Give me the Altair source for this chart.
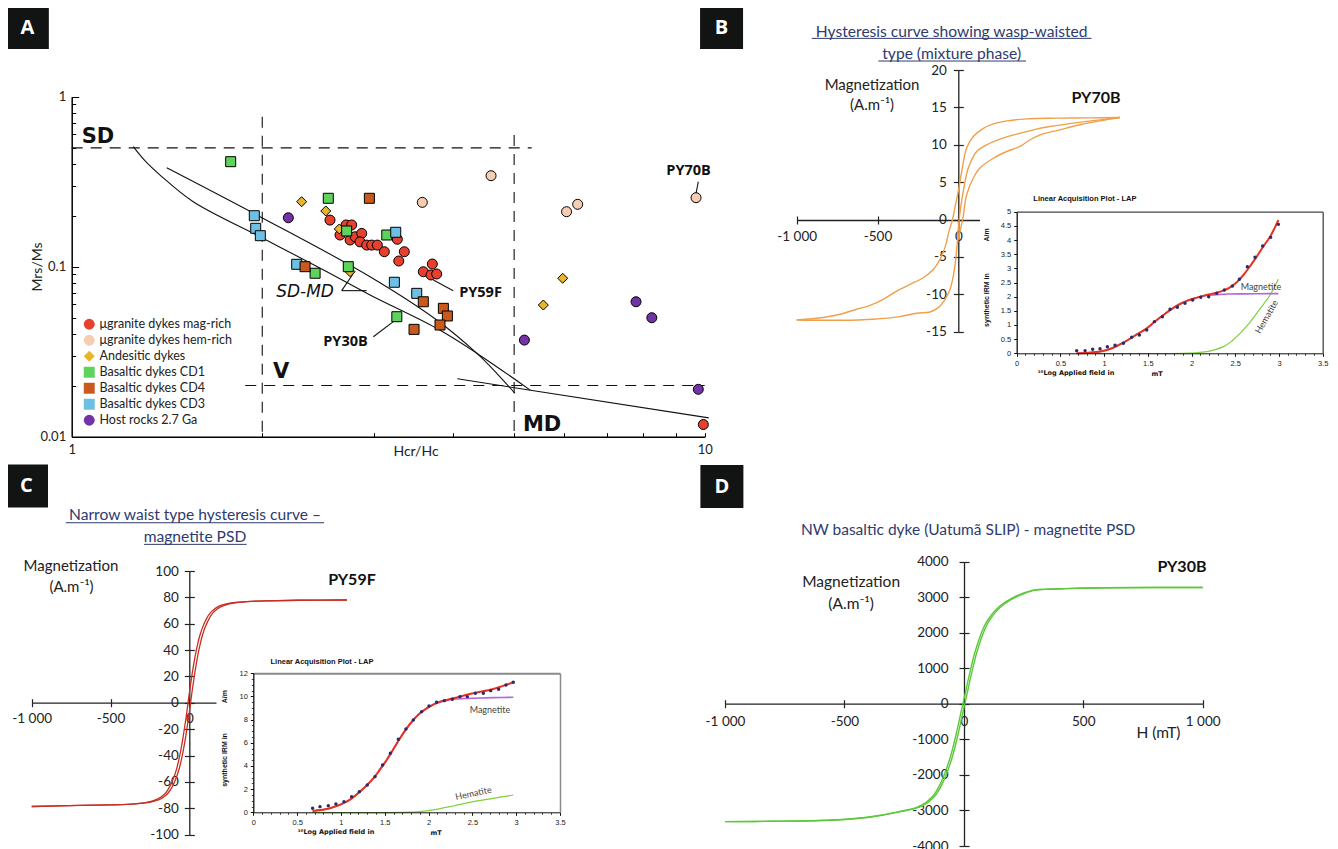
import altair as alt
import pandas as pd

W, H = 1322, 841

# ---------------- Panel A : Day plot data ----------------
A_groups = ["μgranite dykes mag-rich", "μgranite dykes hem-rich", "Andesitic dykes",
            "Basaltic dykes CD1", "Basaltic dykes CD4", "Basaltic dykes CD3", "Host rocks 2.7 Ga"]
A_colors = ["#e8402e", "#f6cdb2", "#e8b52f", "#5ed35b", "#c9591d", "#6dbfe4", "#7333a6"]
A_shapes = ["circle", "circle", "diamond", "square", "square", "square", "circle"]

mag_x = [2.559, 2.713, 2.769, 2.654, 2.753, 2.804, 2.872, 2.854, 2.924, 2.978, 3.04, 3.118,
         3.269, 3.353, 3.286, 3.593, 3.713, 3.695, 3.772, 9.95]
mag_y = [0.188, 0.176, 0.176, 0.1536, 0.1436, 0.150, 0.157, 0.140, 0.134, 0.134, 0.134, 0.1225,
         0.145, 0.1225, 0.108, 0.0934, 0.1037, 0.0894, 0.0906, 0.0118]
hem_x = [4.597, 3.58, 6.05, 6.30, 9.69]
hem_y = [0.343, 0.239, 0.2106, 0.2328, 0.2546]
and_x = [2.308, 2.52, 2.647, 2.753, 5.966, 5.56]
and_y = [0.2412, 0.2127, 0.1667, 0.0934, 0.0855, 0.0595]
cd1_x = [1.783, 2.543, 2.719, 3.146, 2.424, 2.735, 3.263]
cd1_y = [0.4147, 0.2526, 0.1622, 0.1536, 0.0915, 0.1, 0.0508]
cd4_x = [2.953, 2.337, 3.593, 3.865, 3.922, 3.818, 3.474]
cd4_y = [0.2526, 0.1, 0.0622, 0.0569, 0.0513, 0.0454, 0.0428]
cd3_x = [1.943, 1.953, 1.986, 2.267, 3.25, 3.234, 3.508]
cd3_y = [0.1995, 0.1682, 0.1522, 0.1033, 0.1594, 0.081, 0.0697]
host_x = [2.199, 5.19, 7.79, 8.25, 9.77]
host_y = [0.194, 0.037, 0.0622, 0.0501, 0.019]

# SD-MD mixing curves and MD line
curve1_x = [1.251, 1.306, 1.379, 1.556, 1.984, 2.53, 2.96, 3.772, 4.363, 5.30]
curve1_y = [0.508, 0.419, 0.346, 0.241, 0.150, 0.0935, 0.0682, 0.0434, 0.0310, 0.0188]
curve2_x = [1.413, 1.984, 2.96, 3.772, 4.363, 4.693, 5.015]
curve2_y = [0.382, 0.197, 0.0873, 0.0486, 0.0310, 0.0236, 0.0180]
mdline_x = [4.067, 10.15]
mdline_y = [0.0219, 0.0129]
# dashed domain boundaries
dash_seg = ["h1", "h1", "h2", "h2", "v1", "v1", "v2", "v2"]
dash_x = [1, 5.33, 1.88, 10, 2, 2, 5, 5]
dash_y = [0.5, 0.5, 0.02, 0.02, 0.763, 0.01, 0.595, 0.01]
# leader lines
lead_seg = ["a", "a", "b", "b", "c", "c", "d", "d", "e", "e"]
lead_x = [2.670, 2.782, 2.670, 2.924, 2.996, 3.222, 3.727, 4.006, 9.77, 9.69]
lead_y = [0.0723, 0.0906, 0.0723, 0.0723, 0.0387, 0.0475, 0.0835, 0.0723, 0.316, 0.270]

# ---------------- Panel B : PY70B hysteresis ----------------
B_desc_H = [1000, 815, 609, 423, 300, 217, 155, 93, 52, 21, 0, -18, -36, -60, -80, -113, -155,
            -217, -299, -381, -464, -546, -629, -732, -835, -1000]
B_desc_M = [13.64, 13.6, 13.56, 13.47, 13.2, 12.8, 12.2, 11.1, 9.6, 6.4, 3.8, 1.9, 0.0, -1.78,
            -3.56, -5.33, -6.67, -7.78, -8.67, -9.56, -10.67, -11.47, -12.0, -12.67, -13.1, -13.43]
B_asc_H = [-1000, -732, -526, -361, -257, -175, -124, -82, -51, -31, -16, -6, 5, 31, 62, 114,
           176, 258, 361, 464, 567, 712, 877, 1000]
B_asc_M = [-13.43, -13.47, -13.33, -12.98, -12.53, -12.36, -11.78, -10.67, -9.33, -7.56, -5.33,
           -3.1, 0.0, 3.8, 6.9, 9.1, 10.0, 10.76, 11.43, 12.0, 12.44, 12.9, 13.33, 13.64]
B_third_H = [-6, 10, 27, 52, 93, 134, 217, 300, 382, 444, 506, 629, 753, 877, 1000]
B_third_M = [-3.1, -1.6, 0.0, 3.33, 5.56, 6.9, 8.2, 9.1, 9.78, 10.67, 11.33, 12.0, 12.67, 13.2, 13.64]

# LAP inset B
Bi_dot_x = [0.686, 0.782, 0.869, 0.953, 1.037, 1.125, 1.22, 1.315, 1.403, 1.487, 1.575, 1.666,
            1.754, 1.838, 1.925, 2.013, 2.105, 2.196, 2.288, 2.375, 2.467, 2.547, 2.638, 2.726,
            2.814, 2.905, 2.993]
Bi_dot_y = [0.094, 0.094, 0.14, 0.165, 0.235, 0.282, 0.353, 0.565, 0.647, 0.824, 1.118, 1.294,
            1.553, 1.624, 1.765, 1.882, 1.976, 2.0, 2.118, 2.235, 2.376, 2.612, 3.059, 3.388,
            3.788, 4.094, 4.553]
Bi_fit_x = [0.686, 0.82, 0.953, 1.09, 1.22, 1.35, 1.487, 1.58, 1.678, 1.77, 1.868, 1.96, 2.059,
            2.17, 2.288, 2.37, 2.44, 2.52, 2.593, 2.67, 2.745, 2.82, 2.898, 2.95, 2.993]
Bi_fit_y = [0.0, 0.02, 0.06, 0.18, 0.376, 0.62, 0.88, 1.12, 1.353, 1.56, 1.741, 1.87, 1.965,
            2.06, 2.141, 2.22, 2.33, 2.52, 2.765, 3.08, 3.412, 3.77, 4.118, 4.42, 4.706]
Bi_mag_x = [0.686, 0.82, 0.953, 1.09, 1.22, 1.35, 1.487, 1.58, 1.678, 1.77, 1.868, 1.96, 2.059,
            2.17, 2.288, 2.44, 2.6, 2.8, 2.993]
Bi_mag_y = [0.0, 0.02, 0.06, 0.18, 0.376, 0.62, 0.88, 1.12, 1.353, 1.56, 1.741, 1.87, 1.965,
            2.04, 2.07, 2.094, 2.10, 2.105, 2.106]
Bi_hem_x = [0.686, 1.906, 2.05, 2.173, 2.27, 2.364, 2.46, 2.555, 2.65, 2.745, 2.82, 2.898, 2.993]
Bi_hem_y = [0.0, 0.0, 0.02, 0.06, 0.13, 0.235, 0.43, 0.706, 1.03, 1.412, 1.72, 2.059, 2.612]

# ---------------- Panel C : PY59F hysteresis ----------------
C_desc_H = [1000, 692, 492, 392, 292, 242, 192, 152, 132, 112, 92, 82, 72, 62, 52, 42, 32, 22, 12,
            2, -8, -18, -28, -38, -48, -58, -68, -78, -88, -98, -118, -138, -158, -198, -248,
            -298, -398, -498, -698, -1000]
C_desc_M = [78, 77.8, 77.4, 77, 76.1, 75.2, 73.5, 70.5, 68, 64.5, 59.5, 56.5, 53, 49, 44, 38.5,
            32, 25, 17, 9, 0, -9, -17, -25, -32, -38.5, -44, -49, -53, -56.5, -62, -66.3, -69.3,
            -72.8, -74.9, -76, -77, -77.4, -77.8, -78.6]
C_asc_H = [-1000, -692, -492, -392, -292, -242, -192, -152, -132, -112, -92, -82, -72, -62, -52,
           -42, -32, -22, -12, -2, 8, 18, 28, 38, 48, 58, 68, 78, 88, 98, 118, 138, 158, 198, 248,
           298, 398, 498, 698, 1000]
C_asc_M = [-78.6, -77.8, -77.4, -77, -76.1, -75.2, -73.5, -70.5, -68, -64.5, -59.5, -56.5, -53,
           -49, -44, -38.5, -32, -25, -17, -9, 0, 9, 17, 25, 32, 38.5, 44, 49, 53, 56.5, 62, 66.3,
           69.3, 72.8, 74.9, 76, 77, 77.4, 77.8, 78]

# LAP inset C
Ci_dot_x = [0.677, 0.761, 0.856, 0.943, 1.035, 1.122, 1.21, 1.301, 1.389, 1.476, 1.564, 1.655,
            1.742, 1.826, 1.921, 2.005, 2.092, 2.18, 2.271, 2.359, 2.442, 2.534, 2.625, 2.709,
            2.8, 2.884, 2.967]
Ci_dot_y = [0.345, 0.489, 0.576, 0.719, 0.921, 1.353, 1.784, 2.36, 3.079, 4.086, 5.094, 6.302,
            7.194, 7.971, 8.691, 9.18, 9.496, 9.64, 9.755, 9.986, 9.986, 10.273, 10.273, 10.504,
            10.619, 10.993, 11.223]
Ci_fit_x = [0.677, 0.875, 1.065, 1.217, 1.37, 1.446, 1.522, 1.598, 1.674, 1.75, 1.826, 1.902,
            1.978, 2.054, 2.13, 2.283, 2.511, 2.739, 2.967]
Ci_fit_y = [0.115, 0.345, 0.921, 1.784, 2.935, 3.7, 4.518, 5.45, 6.388, 7.25, 7.971, 8.55, 8.978,
            9.3, 9.554, 9.842, 10.273, 10.647, 11.223]
Ci_mag_x = [0.677, 0.875, 1.065, 1.217, 1.37, 1.446, 1.522, 1.598, 1.674, 1.75, 1.826, 1.902,
            1.978, 2.054, 2.13, 2.283, 2.511, 2.739, 2.967]
Ci_mag_y = [0.115, 0.345, 0.921, 1.784, 2.935, 3.7, 4.518, 5.45, 6.388, 7.25, 7.971, 8.55, 8.978,
            9.3, 9.5, 9.755, 9.842, 9.9, 9.928]
Ci_hem_x = [0.677, 1.902, 2.092, 2.283, 2.511, 2.739, 2.967]
Ci_hem_y = [0.0, 0.058, 0.259, 0.547, 0.921, 1.209, 1.496]

# ---------------- Panel D : PY30B hysteresis ----------------
D_desc_H = [1000, 600, 430, 340, 294, 224, 154, 99, 57, 29, 14, 4, -6, -21, -49, -91, -124, -176, -263,
            -396, -542, -796, -1000]
D_desc_M = [3275, 3265, 3241, 3220, 3194, 3025, 2725, 2258, 1508, 758, 300, 0, -300, -758, -1508, -2258,
            -2612, -2880, -3033, -3190, -3267, -3305, -3315]
D_asc_H = [-1000, -804, -550, -404, -271, -184, -132, -99, -57, -29, -14, -4, 6, 21, 49, 91, 146,
           216, 286, 332, 422, 596, 1000]
D_asc_M = [-3315, -3305, -3267, -3190, -3033, -2880, -2612, -2258, -1508, -758, -300, 0, 300, 758,
           1508, 2258, 2725, 3025, 3194, 3220, 3241, 3265, 3275]

# tick label lists
A_xlabels = [1, 10]
A_xticks = [2, 3, 4, 5, 6, 7, 8, 9, 10]
A_ylabels = [0.01, 0.1, 1]
A_yminor = [0.02, 0.03, 0.04, 0.05, 0.06, 0.07, 0.08, 0.09, 0.2, 0.3, 0.4, 0.5, 0.6, 0.7, 0.8, 0.9]
HX_ticks = [-1000, -500, 0, 500, 1000]
B_yticks = [-15, -10, -5, 0, 5, 10, 15, 20]
C_yticks = [-100, -80, -60, -40, -20, 0, 20, 40, 60, 80, 100]
D_yticks = [-4000, -3000, -2000, -1000, 0, 1000, 2000, 3000, 4000]
LAP_xticks = [0, 0.5, 1, 1.5, 2, 2.5, 3, 3.5]
LAP_xminor = [round(0.1 * k, 1) for k in range(36)]
Bi_yticks = [0, 0.5, 1, 1.5, 2, 2.5, 3, 3.5, 4, 4.5, 5]
Ci_yticks = [0, 2, 4, 6, 8, 10, 12]
Ci_yminor = [round(0.5 * k, 1) for k in range(25)]

# ---------------- scales (pixel ranges = layout) ----------------
sAx = alt.Scale(type="log", domain=[1, 10], range=[63.7, 696.7], nice=False)
sAy = alt.Scale(type="log", domain=[0.01, 1], range=[428.7, 88.7], nice=False)
sBx = alt.Scale(domain=[-1000, 1000], range=[788.7, 1111.9], nice=False, zero=False)
sBy = alt.Scale(domain=[-15, 20], range=[323.7, 62], nice=False, zero=False)
sBix = alt.Scale(domain=[0, 3.5], range=[1008.7, 1314.7], nice=False, zero=False)
sBiy = alt.Scale(domain=[0, 5], range=[345.3, 203.7], nice=False, zero=False)
sCx = alt.Scale(domain=[-1000, 1000], range=[23.7, 338.9], nice=False, zero=False)
sCy = alt.Scale(domain=[-100, 100], range=[826.7, 563], nice=False, zero=False)
sCix = alt.Scale(domain=[0, 3.5], range=[245.3, 552], nice=False, zero=False)
sCiy = alt.Scale(domain=[0, 12], range=[804.3, 665.3], nice=False, zero=False)
sDx = alt.Scale(domain=[-1000, 1000], range=[717, 1194.7], nice=False, zero=False)
sDy = alt.Scale(domain=[-4000, 4000], range=[838, 553.7], nice=False, zero=False)

XLAB = "datum.value == -1000 ? '-1 000' : datum.value == 1000 ? '1 000' : (datum.value < 0 ? '-' : '') + abs(datum.value)"
YLAB = "(datum.value < 0 ? '-' : '') + abs(datum.value)"
NAVY = "#2e3b6e"
SMOOTH = "catmull-rom"


def ax(orient, offset, values=None, labels=True, ticks=True, domain=True, tick=5, pad=5,
       fs=13.5, font="Lato", expr=None, fmt=None, z=0, dcol="#222", dw=1.3, tw=1.2):
    kw = dict(orient=orient, offset=offset, labels=labels, ticks=ticks, domain=domain,
              tickSize=tick if ticks else 0, labelPadding=pad, labelFontSize=fs, labelFont=font,
              title=None, grid=False, labelFlush=False, labelOverlap=False, zindex=z,
              domainColor=dcol, domainWidth=dw, tickColor=dcol, tickWidth=tw, labelColor="#222")
    if values is not None:
        kw["values"] = values
    if expr:
        kw["labelExpr"] = expr
    if fmt:
        kw["format"] = fmt
    return alt.Axis(**kw)


def X(f, s, a=None):
    return alt.X(f, type="quantitative", scale=s, axis=a)


def Y(f, s, a=None):
    return alt.Y(f, type="quantitative", scale=s, axis=a)


def lines_df(series):
    rows = []
    for name, xs, ys in series:
        for i, (x, y) in enumerate(zip(xs, ys)):
            rows.append({"seg": name, "x": x, "y": y, "i": i})
    return pd.DataFrame(rows)


def text_layer(items, sx, sy, **mk):
    df = pd.DataFrame(items, columns=["t", "x", "y"])
    base = dict(baseline="middle", align="center")
    base.update(mk)
    return alt.Chart(df).mark_text(**base).encode(x=X("x", sx), y=Y("y", sy), text="t:N")


def box_layer(letter, x, y, sx, sy):
    df = pd.DataFrame({"t": [letter], "x": [x], "y": [y]})
    sq = alt.Chart(df).mark_square(size=1849, color="#121414", opacity=1).encode(x=X("x", sx), y=Y("y", sy))
    tx = alt.Chart(df).mark_text(color="white", font="Open Sans", fontWeight="bold", fontSize=20,
                                 baseline="middle").encode(x=X("x", sx), y=Y("y", sy), text="t:N")
    return [sq, tx]


def rect_layer(x1, x2, y1, y2, sx, sy):
    df = pd.DataFrame({"x": [x1], "x2": [x2], "y": [y1], "y2": [y2]})
    return alt.Chart(df).mark_rect(fill="white", opacity=1).encode(
        x=X("x", sx), x2="x2:Q", y=Y("y", sy), y2="y2:Q")


def rule_layer(items, sx, sy, color):
    df = pd.DataFrame(items, columns=["x", "x2", "y"])
    return alt.Chart(df).mark_rule(color=color, strokeWidth=1).encode(x=X("x", sx), x2="x2:Q", y=Y("y", sy))


layers = []

# ================= Panel A =================
dfA_dash = pd.DataFrame({"seg": dash_seg, "x": dash_x, "y": dash_y, "i": range(len(dash_x))})
layers.append(alt.Chart(dfA_dash).mark_line(color="#111", strokeWidth=1.1, strokeDash=[11, 8]).encode(
    x=X("x", sAx, ax("top", -428.7, A_xticks, labels=False, domain=False, tick=4, dcol="black", tw=1)),
    y=Y("y", sAy, ax("right", 63.7 - W, A_yminor, labels=False, domain=False, tick=4, dcol="black", tw=1)),
    detail="seg:N", order="i:Q"))

dfA_curves = lines_df([("c1", curve1_x, curve1_y), ("c2", curve2_x, curve2_y)])
layers.append(alt.Chart(dfA_curves).mark_line(color="#111", strokeWidth=1.1, interpolate=SMOOTH).encode(
    x=X("x", sAx), y=Y("y", sAy, ax("right", 63.7 - W, A_ylabels, labels=False, domain=False, tick=7, dcol="black", tw=1)),
    detail="seg:N", order="i:Q"))
lead = pd.concat([lines_df([("md", mdline_x, mdline_y)]),
                  pd.DataFrame({"seg": lead_seg, "x": lead_x, "y": lead_y, "i": range(len(lead_x))})],
                 ignore_index=True)
layers.append(alt.Chart(lead).mark_line(color="#111", strokeWidth=1.1).encode(
    x=X("x", sAx), y=Y("y", sAy), detail="seg:N", order="i:Q"))

pts = []
k = 0
for gi, xs, ys in [(0, mag_x, mag_y), (1, hem_x, hem_y), (2, and_x, and_y), (6, host_x, host_y),
                   (3, cd1_x, cd1_y), (5, cd3_x, cd3_y), (4, cd4_x, cd4_y)]:
    for x, y in zip(xs, ys):
        pts.append({"g": A_groups[gi], "x": x, "y": y, "i": k})
        k += 1
dfA_pts = pd.DataFrame(pts)
legA = alt.Legend(orient="none", legendX=75, legendY=310, title=None, labelFont="Lato", labelFontSize=12.5,
                  labelColor="#222", symbolSize=120, symbolStrokeColor="black", symbolStrokeWidth=1,
                  rowPadding=0, padding=0, labelLimit=300, symbolOpacity=1, labelOffset=4)
layers.append(alt.Chart(dfA_pts).mark_point(filled=True, opacity=1, stroke="black", strokeWidth=1, size=100).encode(
    x=X("x", sAx, ax("bottom", 428.7 - H, A_xlabels, ticks=False, pad=7, fs=13, dcol="black", dw=1.5, fmt="~g")),
    y=Y("y", sAy, ax("left", -63.7, A_ylabels, ticks=False, pad=6, fs=13, dcol="black", dw=1.5, fmt="~g")),
    color=alt.Color("g:N", scale=alt.Scale(domain=A_groups, range=A_colors), legend=legA),
    shape=alt.Shape("g:N", scale=alt.Scale(domain=A_groups, range=A_shapes), legend=legA),
    order=alt.Order("i:Q")))

layers.append(text_layer([("SD", 1.037, 0.582), ("V", 2.08, 0.0241), ("MD", 5.163, 0.0117)], sAx, sAy,
                         align="left", font="DejaVu Sans", fontWeight="bold", fontSize=21, color="#111"))
layers.append(text_layer([("PY30B", 2.707, 0.0362), ("PY59F", 4.424, 0.0697), ("PY70B", 9.428, 0.3656)],
                         sAx, sAy, font="Open Sans", fontWeight="bold", fontSize=14.5, color="#111"))
layers.append(text_layer([("SD-MD", 2.337, 0.071)], sAx, sAy, font="DejaVu Sans", fontStyle="italic",
                         fontSize=17, color="#111"))
layers.append(text_layer([("Hcr/Hc", 3.499, 0.00813)], sAx, sAy, font="Lato", fontSize=14, color="#222"))
layers.append(text_layer([("Mrs/Ms", 0.885, 0.0996)], sAx, sAy, font="Lato", fontSize=14, color="#222", angle=270))
layers += box_layer("A", 0.851, 2.553, sAx, sAy)

# ================= Panel B =================
dfB = lines_df([("desc", B_desc_H, B_desc_M), ("asc", B_asc_H, B_asc_M), ("third", B_third_H, B_third_M)])
layers.append(alt.Chart(dfB).mark_line(color="#f0a04b", strokeWidth=1.4, interpolate=SMOOTH).encode(
    x=X("x", sBx, ax("bottom", 212 - H, HX_ticks, tick=4, pad=5, expr=XLAB)),
    y=Y("y", sBy, ax("left", -950.3, B_yticks, tick=5, pad=7, expr=YLAB)),
    detail="seg:N", order="i:Q"))
layers.append(text_layer([("Hysteresis curve showing wasp-waisted", -41, 25.1), ("type (mixture phase)", -41, 22.2)],
                         sBx, sBy, font="Lato", fontSize=15.6, color=NAVY))
layers.append(rule_layer([(-907, 825, 24.23), (-495, 419, 21.2)], sBx, sBy, NAVY))
layers.append(text_layer([("Magnetization", -534, 18.0), ("(A.m⁻¹)", -534, 15.33)], sBx, sBy,
                         font="Lato", fontSize=15, color="#222").encode(
    x=X("x", sBx, ax("top", -212, HX_ticks, labels=False, domain=False, tick=4)),
    y=Y("y", sBy, ax("right", 950.3 - W, B_yticks, labels=False, domain=False, tick=5))))
layers.append(text_layer([("PY70B", 852, 16.2)], sBx, sBy, font="Lato", fontWeight="bold", fontSize=16, color="#111"))
layers += box_layer("B", -1465, 25.67, sBx, sBy)

# inset B
layers.append(rect_layer(-0.42, 3.6, -0.95, 5.8, sBix, sBiy))
layers.append(alt.Chart(lines_df([("h", Bi_hem_x, Bi_hem_y)])).mark_line(color="#7ed23c", strokeWidth=1.2, interpolate=SMOOTH).encode(
    x=X("x", sBix, ax("bottom", 345.3 - H, LAP_xticks, tick=3, pad=3, fs=7.5, font="Liberation Sans", fmt="~g", z=1, dcol="#111", dw=1, tw=1)),
    y=Y("y", sBiy, ax("left", -1008.7, Bi_yticks, tick=3, pad=3, fs=7.5, font="Liberation Sans", fmt="~g", z=1, dcol="#111", dw=1.3, tw=1)),
    order="i:Q"))
layers.append(alt.Chart(lines_df([("m", Bi_mag_x, Bi_mag_y)])).mark_line(color="#b466dc", strokeWidth=1.6, interpolate=SMOOTH).encode(
    x=X("x", sBix, ax("bottom", 345.3 - H, LAP_xminor, labels=False, domain=False, tick=2, z=1, dcol="#111", tw=0.8)),
    y=Y("y", sBiy), order="i:Q"))
layers.append(alt.Chart(lines_df([("f", Bi_fit_x, Bi_fit_y)])).mark_line(color="#e8321e", strokeWidth=2, interpolate=SMOOTH).encode(
    x=X("x", sBix, ax("top", -203.7, labels=False, ticks=False, z=1, dcol="#444", dw=1.3)),
    y=Y("y", sBiy, ax("right", 1314.7 - W, labels=False, ticks=False, z=1, dcol="#444", dw=1.3)),
    order="i:Q"))
layers.append(alt.Chart(pd.DataFrame({"x": Bi_dot_x, "y": Bi_dot_y})).mark_circle(size=12, color="#2b2b6b", opacity=1).encode(
    x=X("x", sBix), y=Y("y", sBiy)))
layers.append(text_layer([("Linear Acquisition Plot - LAP", 0.78, 5.45)], sBix, sBiy, font="Liberation Sans",
                         fontWeight="bold", fontSize=7.5, color="#111"))
layers.append(text_layer([("¹⁰Log Applied field in", 0.678, -0.70), ("mT", 1.606, -0.73)], sBix, sBiy,
                         font="DejaVu Sans", fontWeight="bold", fontSize=6.5, color="#111"))
layers.append(text_layer([("A/m", -0.343, 4.18), ("synthetic IRM in", -0.343, 1.88)], sBix, sBiy,
                         font="Liberation Sans", fontWeight="bold", fontSize=7, color="#111", angle=270))
layers.append(text_layer([("Magnetite", 2.794, 2.33)], sBix, sBiy, font="Lato", fontSize=9, color="#444"))
layers.append(text_layer([("Hematite", 2.859, 1.29)], sBix, sBiy, font="Lato", fontSize=9, color="#444", angle=300))

# ================= Panel C =================
dfC = lines_df([("desc", C_desc_H, C_desc_M), ("asc", C_asc_H, C_asc_M)])
layers.append(alt.Chart(dfC).mark_line(color="#c62f23", strokeWidth=1.3, interpolate=SMOOTH).encode(
    x=X("x", sCx, ax("bottom", 694.7 - H, HX_ticks, tick=4, pad=5, expr=XLAB)),
    y=Y("y", sCy, ax("left", -181.3, C_yticks, tick=5, pad=6, expr=YLAB)),
    detail="seg:N", order="i:Q"))
layers.append(text_layer([("Narrow waist type hysteresis curve –", 36, 142.4), ("magnetite PSD", 36, 126)],
                         sCx, sCy, font="Lato", fontSize=15.6, color=NAVY))
layers.append(rule_layer([(-784, 855, 136.6), (-287, 364, 120.2)], sCx, sCy, NAVY))
layers.append(text_layer([("Magnetization", -751, 104), ("(A.m⁻¹)", -748, 87.6)], sCx, sCy,
                         font="Lato", fontSize=15, color="#222").encode(
    x=X("x", sCx, ax("top", -694.7, HX_ticks, labels=False, domain=False, tick=4)),
    y=Y("y", sCy, ax("right", 181.3 - W, C_yticks, labels=False, domain=False, tick=5))))
layers.append(text_layer([("PY59F", 1032, 93.1)], sCx, sCy, font="Lato", fontWeight="bold", fontSize=16, color="#111"))
layers += box_layer("C", -1033, 164.4, sCx, sCy)

# inset C
layers.append(rect_layer(-0.42, 3.56, -2.9, 13.84, sCix, sCiy))
layers.append(alt.Chart(lines_df([("h", Ci_hem_x, Ci_hem_y)])).mark_line(color="#7ed23c", strokeWidth=1.2, interpolate=SMOOTH).encode(
    x=X("x", sCix, ax("bottom", 804.3 - H, LAP_xticks, tick=3, pad=3, fs=7.5, font="Liberation Sans", fmt="~g", z=1, dcol="#111", dw=1, tw=1)),
    y=Y("y", sCiy, ax("left", -245.3, Ci_yticks, tick=3, pad=3, fs=7.5, font="Liberation Sans", fmt="~g", z=1, dcol="#111", dw=1.3, tw=1)),
    order="i:Q"))
layers.append(alt.Chart(lines_df([("m", Ci_mag_x, Ci_mag_y)])).mark_line(color="#b466dc", strokeWidth=1.6, interpolate=SMOOTH).encode(
    x=X("x", sCix, ax("bottom", 804.3 - H, LAP_xminor, labels=False, domain=False, tick=2, z=1, dcol="#111", tw=0.8)),
    y=Y("y", sCiy, ax("left", -245.3, Ci_yminor, labels=False, domain=False, tick=2, z=1, dcol="#111", tw=0.8)),
    order="i:Q"))
layers.append(alt.Chart(lines_df([("f", Ci_fit_x, Ci_fit_y)])).mark_line(color="#e8321e", strokeWidth=2, interpolate=SMOOTH).encode(
    x=X("x", sCix, ax("top", -665.3, labels=False, ticks=False, z=1, dcol="#8a8a8a", dw=2)),
    y=Y("y", sCiy, ax("right", 552 - W, labels=False, ticks=False, z=1, dcol="#8a8a8a", dw=1.5)),
    order="i:Q"))
layers.append(alt.Chart(pd.DataFrame({"x": Ci_dot_x, "y": Ci_dot_y})).mark_circle(size=12, color="#2b2b6b", opacity=1).encode(
    x=X("x", sCix), y=Y("y", sCiy)))
layers.append(text_layer([("Linear Acquisition Plot - LAP", 0.784, 12.95)], sCix, sCiy, font="Liberation Sans",
                         fontWeight="bold", fontSize=7.5, color="#111"))
layers.append(text_layer([("¹⁰Log Applied field in", 0.944, -1.70), ("mT", 2.085, -1.79)], sCix, sCiy,
                         font="DejaVu Sans", fontWeight="bold", fontSize=6.5, color="#111"))
layers.append(text_layer([("A/m", -0.323, 9.98), ("synthetic IRM in", -0.323, 4.52)], sCix, sCiy,
                         font="Liberation Sans", fontWeight="bold", fontSize=7, color="#111", angle=270))
layers.append(text_layer([("Magnetite", 2.701, 8.83)], sCix, sCiy, font="Lato", fontSize=9, color="#444"))
layers.append(text_layer([("Hematite", 2.512, 1.64)], sCix, sCiy, font="Lato", fontSize=9, color="#444", angle=348))

# ================= Panel D =================
dfD = lines_df([("desc", D_desc_H, D_desc_M), ("asc", D_asc_H, D_asc_M)])
layers.append(alt.Chart(dfD).mark_line(color="#5cc83a", strokeWidth=1.4, interpolate=SMOOTH).encode(
    x=X("x", sDx, ax("bottom", 695.7 - H, HX_ticks, tick=4, pad=7, expr=XLAB)),
    y=Y("y", sDy, ax("left", -956, D_yticks, tick=5, pad=11, expr=YLAB)),
    detail="seg:N", order="i:Q"))
layers.append(text_layer([("NW basaltic dyke (Uatumã SLIP) - magnetite PSD", 18, 4879)], sDx, sDy,
                         font="Lato", fontSize=15.5, color=NAVY))
layers.append(text_layer([("Magnetization", -472, 3427), ("(A.m⁻¹)", -472, 2820), ("H (mT)", 815, -815)], sDx, sDy,
                         font="Lato", fontSize=15.5, color="#222").encode(
    x=X("x", sDx, ax("top", -695.7, HX_ticks, labels=False, domain=False, tick=4)),
    y=Y("y", sDy, ax("right", 956 - W, D_yticks, labels=False, domain=False, tick=5))))
layers.append(text_layer([("PY30B", 913, 3848)], sDx, sDy, font="Lato", fontWeight="bold", fontSize=16, color="#111"))
layers += box_layer("D", -1013, 6115, sDx, sDy)

chart = alt.layer(*layers).resolve_scale(
    x="independent", y="independent", color="independent", shape="independent"
).resolve_axis(x="independent", y="independent").properties(
    width=W, height=H, autosize=alt.AutoSizeParams(type="none"), padding=0
).configure_view(stroke=None).configure_axis(grid=False)

chart.save("out.html", embed_options={"renderer": "svg", "actions": False})
